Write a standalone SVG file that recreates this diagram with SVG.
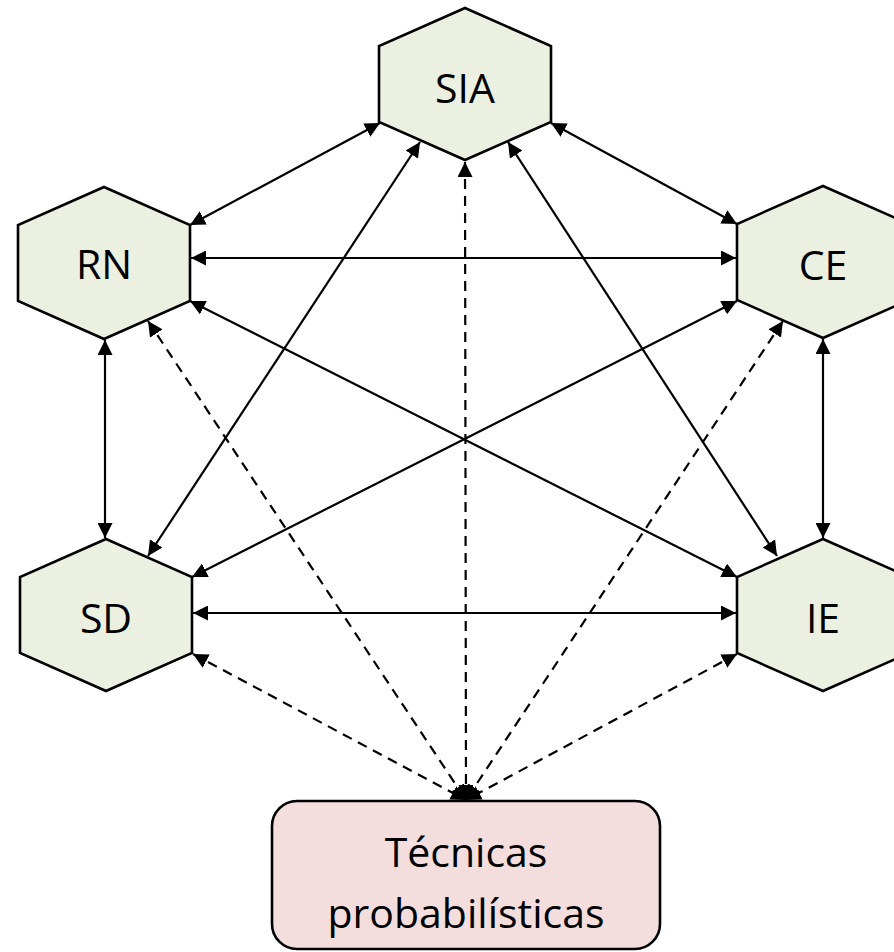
<svg xmlns="http://www.w3.org/2000/svg" width="894" height="952" viewBox="0 0 894 952">
  <style>
    .hex { fill: #ECF0E1; stroke: #000; stroke-width: 2.6; stroke-linejoin: miter; }
    .box { fill: #F4DEDD; stroke: #000; stroke-width: 2.6; }
    .label { font-family: "Open Sans", "Liberation Sans", sans-serif; font-size: 41px; fill: #000; text-anchor: middle; }
    .solid { stroke: #000; stroke-width: 2.2; fill: none; marker-start: url(#head); marker-end: url(#head); }
    .dashed { stroke: #000; stroke-width: 2.2; fill: none; stroke-dasharray: 10 7; marker-start: url(#head); marker-end: url(#head); }
  </style>
  <defs>
    <!-- shared arrowhead, flipped at the start of each line -->
    <marker id="head" markerUnits="userSpaceOnUse" markerWidth="15" markerHeight="15" viewBox="0 0 15 15" refX="15" refY="7.5" orient="auto-start-reverse">
      <path d="M0,0 L15,7.5 L0,15 z" fill="#000"/>
    </marker>
  </defs>

  <rect width="894" height="952" fill="#fff"/>

  <!-- nodes -->
  <g id="sia">
    <polygon class="hex" points="465,8 551,46 551,122 465,160 379,122 379,46"/>
    <text class="label" x="465" y="103">SIA</text>
  </g>
  <g id="rn">
    <polygon class="hex" points="104,187 190,225 190,301 104,339 18,301 18,225"/>
    <text class="label" x="104" y="279">RN</text>
  </g>
  <g id="ce">
    <polygon class="hex" points="823,186 909,224 909,300 823,338 737,300 737,224"/>
    <text class="label" x="823" y="280">CE</text>
  </g>
  <g id="sd">
    <polygon class="hex" points="106,539 192,577 192,653 106,691 20,653 20,577"/>
    <text class="label" x="106" y="633">SD</text>
  </g>
  <g id="ie">
    <polygon class="hex" points="823,539 909,577 909,653 823,691 737,653 737,577"/>
    <text class="label" x="823" y="633">IE</text>
  </g>
  <g id="tecnicas">
    <rect class="box" x="272" y="801" width="388" height="148" rx="25" ry="25"/>
    <text class="label" x="466" y="867" font-size="39">Técnicas</text>
    <text class="label" x="466" y="928" font-size="39">probabilísticas</text>
  </g>

  <!-- connectors -->
  <g id="connectors">
    <line class="solid" x1="190" y1="225" x2="380" y2="123"/>
    <line class="solid" x1="551" y1="123" x2="737" y2="224"/>
    <line class="solid" x1="191" y1="258" x2="736" y2="258"/>
    <line class="solid" x1="190" y1="301" x2="737" y2="577"/>
    <line class="solid" x1="737" y1="301" x2="192" y2="577"/>
    <line class="solid" x1="105" y1="340" x2="105" y2="538"/>
    <line class="solid" x1="823" y1="339" x2="823" y2="538"/>
    <line class="solid" x1="193" y1="613" x2="736" y2="613"/>
    <line class="solid" x1="420" y1="142" x2="148" y2="556"/>
    <line class="solid" x1="508" y1="142" x2="777" y2="556"/>

    <line class="dashed" x1="465" y1="162" x2="466" y2="800"/>
    <line class="dashed" x1="148" y1="321" x2="466" y2="800"/>
    <line class="dashed" x1="783" y1="321" x2="466" y2="800"/>
    <line class="dashed" x1="193" y1="654" x2="466" y2="800"/>
    <line class="dashed" x1="737" y1="654" x2="466" y2="800"/>
  </g>
</svg>
